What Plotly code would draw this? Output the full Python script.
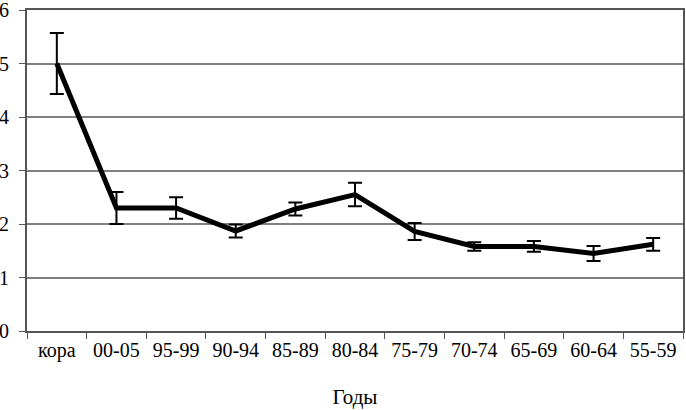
import plotly.graph_objects as go

categories = ["кора", "00-05", "95-99", "90-94", "85-89", "80-84", "75-79", "70-74", "65-69", "60-64", "55-59"]
values = [5.0, 2.3, 2.3, 1.87, 2.28, 2.55, 1.86, 1.58, 1.58, 1.45, 1.62]
errors = [0.57, 0.3, 0.2, 0.12, 0.12, 0.22, 0.16, 0.08, 0.1, 0.14, 0.12]
y_ticks = [0, 1, 2, 3, 4, 5, 6]
x_title = "Годы"

font = "Liberation Serif"

fig = go.Figure(go.Scatter(
    x=categories, y=values, mode="lines",
    line=dict(color="black", width=5),
    error_y=dict(type="data", array=errors, visible=True, color="black", thickness=2, width=7),
    cliponaxis=False,
))

fig.update_layout(
    width=686, height=410,
    margin=dict(l=27, r=3, t=10, b=79),
    paper_bgcolor="white", plot_bgcolor="white",
    showlegend=False,
    font=dict(family=font, size=20, color="black"),
)
fig.update_xaxes(
    type="category", tickson="boundaries", ticks="outside", ticklen=6, tickcolor="#555",
    showline=True, linecolor="#555", linewidth=2, mirror=True,
    showgrid=False, tickfont=dict(family=font, size=20), automargin=False,
    title=dict(text=x_title, font=dict(family=font, size=21), standoff=28),
    range=[-0.5, 10.5],
)
fig.update_yaxes(
    range=[0, 6], tickvals=y_ticks, ticks="outside", ticklen=6, tickcolor="#555",
    showline=True, linecolor="#555", linewidth=2, mirror=True,
    showgrid=True, gridcolor="#808080", gridwidth=1.5, zeroline=False,
    tickfont=dict(family=font, size=20), automargin=False, ticklabelstandoff=6,
    ticklabeloverflow="allow",
)

fig.write_html("out.html", config={"displayModeBar": False},
               post_script="document.body.style.margin='0';document.body.style.padding='0';")
